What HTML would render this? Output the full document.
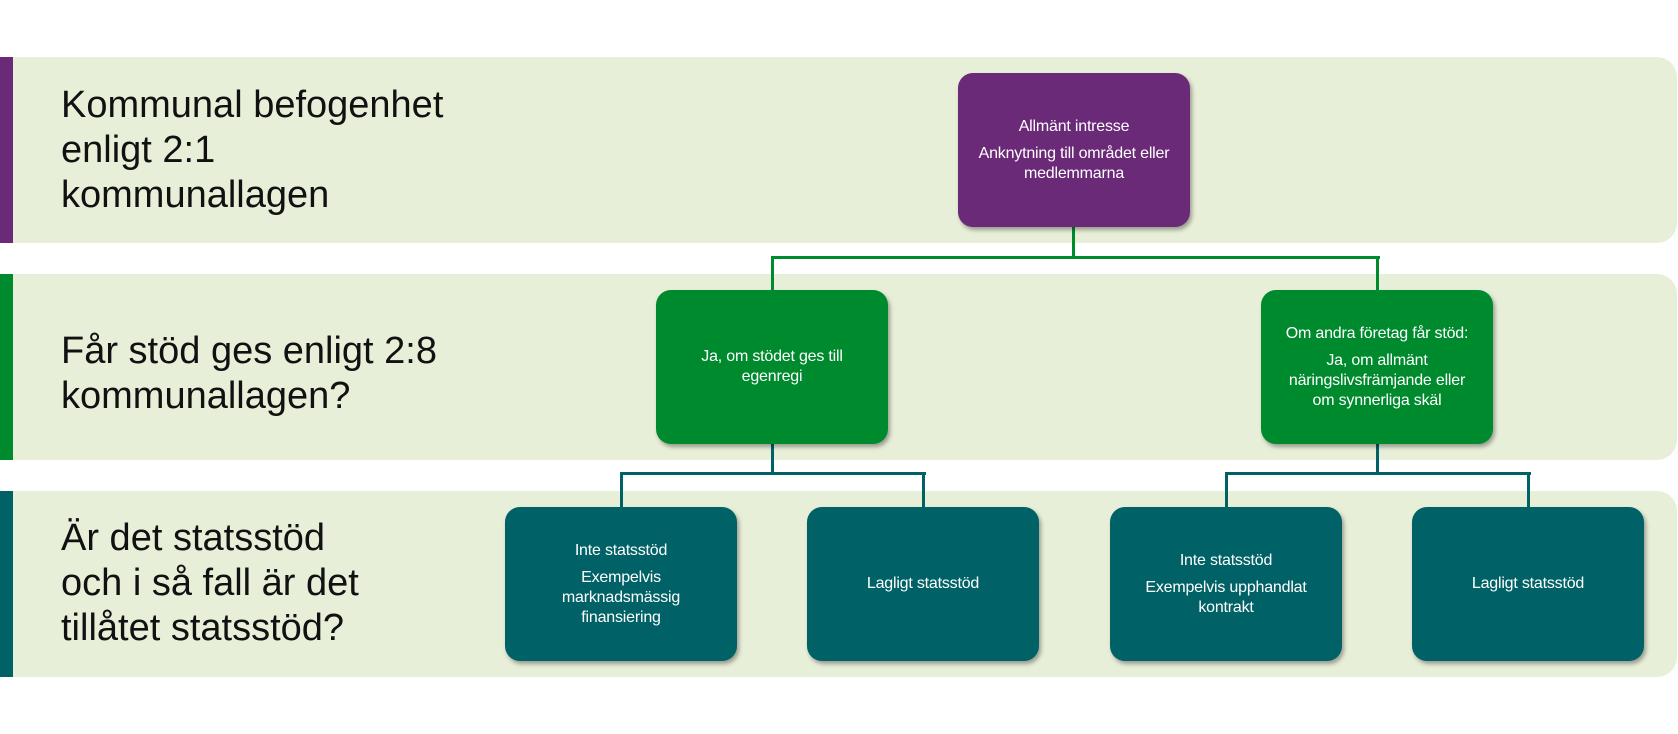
<!DOCTYPE html>
<html><head><meta charset="utf-8"><style>
body{margin:0;width:1678px;height:734px;background:#fff;position:relative;overflow:hidden;font-family:"Liberation Sans",sans-serif}
.band{position:absolute;left:0;width:1677px;height:186px;background:#e8efd9;border-radius:0 20px 20px 0}
.bar{position:absolute;left:0;top:0;width:13px;height:100%}
.lbl{position:absolute;left:61px;font-size:38px;line-height:45px;color:#111;letter-spacing:0px}
.box{position:absolute;width:232px;height:154px;border-radius:15px;color:#fff;font-size:16px;line-height:20px;text-align:center;display:flex;flex-direction:column;justify-content:center;box-shadow:2px 3px 4px rgba(0,0,0,.35);padding:0 14px;box-sizing:border-box;letter-spacing:-0.2px}
.box p{margin:0 0 7px}.box p:last-child{margin:0}
.l{position:absolute}
</style></head><body>
<div class="band" style="top:57px"><div class="bar" style="background:#6a2a77"></div></div>
<div class="band" style="top:274px"><div class="bar" style="background:#008a2e"></div></div>
<div class="band" style="top:491px"><div class="bar" style="background:#006266"></div></div>
<div class="lbl" style="top:83px">Kommunal befogenhet<br>enligt 2:1<br>kommunallagen</div>
<div class="lbl" style="top:329px">Får stöd ges enligt 2:8<br>kommunallagen?</div>
<div class="lbl" style="top:516px">Är det statsstöd<br>och i så fall är det<br>tillåtet statsstöd?</div>
<!-- connectors -->
<div class="l" style="left:1072px;top:227px;width:3px;height:32px;background:#008a2e"></div>
<div class="l" style="left:771px;top:256px;width:609px;height:3px;background:#008a2e"></div>
<div class="l" style="left:771px;top:256px;width:3px;height:34px;background:#008a2e"></div>
<div class="l" style="left:1376px;top:256px;width:3px;height:34px;background:#008a2e"></div>
<div class="l" style="left:771px;top:444px;width:3px;height:31px;background:#006266"></div>
<div class="l" style="left:620px;top:472px;width:306px;height:3px;background:#006266"></div>
<div class="l" style="left:620px;top:472px;width:3px;height:35px;background:#006266"></div>
<div class="l" style="left:922px;top:472px;width:3px;height:35px;background:#006266"></div>
<div class="l" style="left:1376px;top:444px;width:3px;height:31px;background:#006266"></div>
<div class="l" style="left:1225px;top:472px;width:306px;height:3px;background:#006266"></div>
<div class="l" style="left:1225px;top:472px;width:3px;height:35px;background:#006266"></div>
<div class="l" style="left:1527px;top:472px;width:3px;height:35px;background:#006266"></div>
<!-- boxes -->
<div class="box" style="left:958px;top:73px;background:#6a2a77"><p>Allmänt intresse</p><p>Anknytning till området eller medlemmarna</p></div>
<div class="box" style="left:656px;top:290px;background:#008a2e;padding:0 24px"><p>Ja, om stödet ges till egenregi</p></div>
<div class="box" style="left:1261px;top:290px;background:#008a2e;padding:0 20px"><p>Om andra företag får stöd:</p><p>Ja, om allmänt näringslivsfrämjande eller om synnerliga skäl</p></div>
<div class="box" style="left:505px;top:507px;background:#006266;padding:0 26px"><p>Inte statsstöd</p><p>Exempelvis marknadsmässig finansiering</p></div>
<div class="box" style="left:807px;top:507px;background:#006266"><p>Lagligt statsstöd</p></div>
<div class="box" style="left:1110px;top:507px;background:#006266"><p>Inte statsstöd</p><p>Exempelvis upphandlat kontrakt</p></div>
<div class="box" style="left:1412px;top:507px;background:#006266"><p>Lagligt statsstöd</p></div>
</body></html>
